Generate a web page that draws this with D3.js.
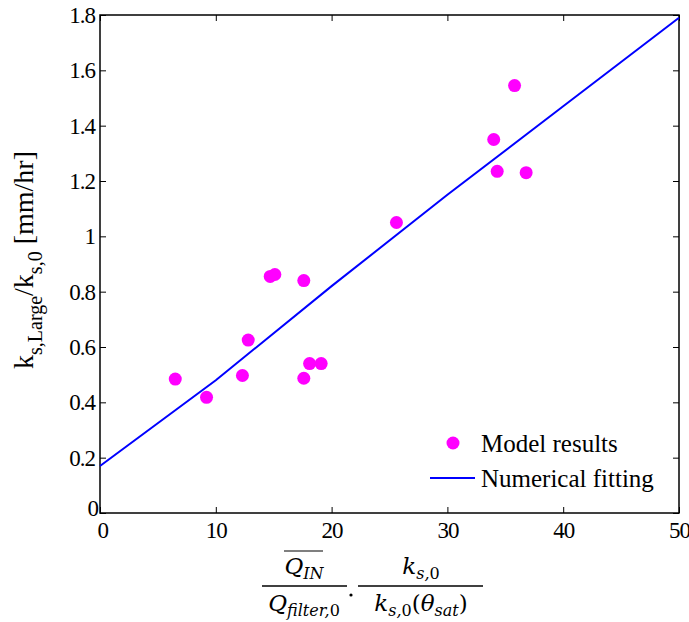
<!DOCTYPE html>
<html><head><meta charset="utf-8">
<script src="https://cdn.jsdelivr.net/npm/d3@7"></script>
<style>body{margin:0;background:#fff}svg{display:block}</style>
</head><body>
<svg id="c" width="689" height="622"></svg>
<script>
const pointsX = [6.5, 9.2, 12.3, 12.8, 14.7, 15.1, 17.6, 17.6, 18.1, 19.1, 25.6, 34.0, 34.3, 35.8, 36.8];
const pointsY = [0.484, 0.418, 0.497, 0.625, 0.855, 0.862, 0.84, 0.487, 0.54, 0.54, 1.05, 1.35, 1.235, 1.545, 1.23];
const fitX = [0, 10, 20, 30, 40, 50];
const fitY = [0.17, 0.48, 0.82, 1.15, 1.47, 1.79];
const xTicks = [0, 10, 20, 30, 40, 50];
const yTicks = [0, 0.2, 0.4, 0.6, 0.8, 1, 1.2, 1.4, 1.6, 1.8];
const legendLabels = ["Model results", "Numerical fitting"];

const svg = d3.select("#c");
const L = 100, R = 679, T = 15, B = 513;
const x = d3.scaleLinear().domain([0, 50]).range([L, R]);
const y = d3.scaleLinear().domain([0, 1.8]).range([B, T]);
const tickFont = "Liberation Serif, Times New Roman, serif";

const gx = svg.append("g").attr("transform", `translate(0,${B})`)
  .call(d3.axisBottom(x).tickValues(xTicks).tickSizeInner(-6).tickSizeOuter(0).tickPadding(9).tickFormat(d3.format("d")));
const gy = svg.append("g").attr("transform", `translate(${L},0)`)
  .call(d3.axisLeft(y).tickValues(yTicks).tickSizeInner(-6).tickSizeOuter(0).tickPadding(5).tickFormat(d => d === 0 ? "0" : (d === 1 ? "1" : d3.format(".1f")(d))));
const gt = svg.append("g").attr("transform", `translate(0,${T})`)
  .call(d3.axisTop(x).tickValues(xTicks).tickSizeInner(-6).tickSizeOuter(0).tickFormat(""));
const gr = svg.append("g").attr("transform", `translate(${R},0)`)
  .call(d3.axisRight(y).tickValues(yTicks).tickSizeInner(-6).tickSizeOuter(0).tickFormat(""));
[gx, gy, gt, gr].forEach(g => {
  g.attr("font-family", tickFont);
  g.select(".domain").remove();
  g.selectAll("line").attr("stroke", "#000").attr("stroke-width", 1);
  g.selectAll("text").attr("font-family", tickFont).attr("font-size", 23).attr("letter-spacing", -1).attr("fill", "#000");
});
gy.selectAll(".tick").filter(d => d === 0).select("text").attr("dy", "0.1em").attr("x", -2);
gx.selectAll(".tick").filter(d => d === 0).select("text").attr("dx", "0.1em");

svg.append("rect").attr("x", L).attr("y", T).attr("width", R - L).attr("height", B - T)
  .attr("fill", "none").attr("stroke", "#000").attr("stroke-width", 1.5);

const line = d3.line().x(d => x(d[0])).y(d => y(d[1]));
svg.append("path").datum(fitX.map((v, i) => [v, fitY[i]]))
  .attr("d", line).attr("fill", "none").attr("stroke", "#0000ff").attr("stroke-width", 2);

svg.append("g").selectAll("circle").data(pointsX.map((v, i) => [v, pointsY[i]])).join("circle")
  .attr("cx", d => x(d[0])).attr("cy", d => y(d[1])).attr("r", 6.5).attr("fill", "#ff00ff");

const lg = svg.append("g");
lg.append("circle").attr("cx", 453).attr("cy", 443).attr("r", 6.5).attr("fill", "#ff00ff");
lg.append("line").attr("x1", 430).attr("x2", 475).attr("y1", 478).attr("y2", 478).attr("stroke", "#0000ff").attr("stroke-width", 2);
lg.selectAll("text").data(legendLabels).join("text")
  .attr("x", 481).attr("y", (d, i) => 452 + i * 35)
  .attr("font-family", tickFont).attr("font-size", 25).attr("fill", "#000").text(d => d);

const yl = svg.append("text").attr("transform", "translate(33,260) rotate(-90)")
  .attr("text-anchor", "middle").attr("font-family", tickFont).attr("font-size", 28).attr("fill", "#000");
yl.append("tspan").text("k");
yl.append("tspan").attr("font-size", 20).attr("dy", 9).text("s,Large");
yl.append("tspan").attr("dy", -9).text("/k");
yl.append("tspan").attr("font-size", 20).attr("dy", 9).text("s,0");
yl.append("tspan").attr("dy", -9).text(" [mm/hr]");

const mf = "DejaVu Serif, serif";
const xl = svg.append("g").attr("font-family", mf).attr("fill", "#000");
function frac(cx, numParts, denParts, x1, x2) {
  const n = xl.append("text").attr("x", cx).attr("y", 574).attr("text-anchor", "middle").attr("font-size", 23);
  numParts.forEach(p => n.append("tspan").attr("font-size", p[1]).attr("dy", p[2]).attr("font-style", p[3] || "italic").text(p[0]));
  const dn = xl.append("text").attr("x", cx).attr("y", 611).attr("text-anchor", "middle").attr("font-size", 23);
  denParts.forEach(p => dn.append("tspan").attr("font-size", p[1]).attr("dy", p[2]).attr("font-style", p[3] || "italic").text(p[0]));
  xl.append("line").attr("x1", x1).attr("x2", x2).attr("y1", 586).attr("y2", 586).attr("stroke", "#000").attr("stroke-width", 1.5);
}
frac(304, [["Q", 23, 0], ["IN", 16, 5]], [["Q", 23, 0], ["filter,", 16, 5], ["0", 16, 0, "normal"]], 262, 347);
xl.append("line").attr("x1", 284).attr("x2", 323).attr("y1", 551).attr("y2", 551).attr("stroke", "#000").attr("stroke-width", 1.2);
xl.append("circle").attr("cx", 351).attr("cy", 595).attr("r", 1.6).attr("fill", "#000");
frac(421, [["k", 23, 0], ["s,", 16, 5], ["0", 16, 0, "normal"]], [["k", 23, 0], ["s,", 16, 5], ["0", 16, 0, "normal"], ["(", 23, -5, "normal"], ["θ", 23, 0], ["sat", 16, 5], [")", 23, -5, "normal"]], 358, 483);
</script>
</body></html>
